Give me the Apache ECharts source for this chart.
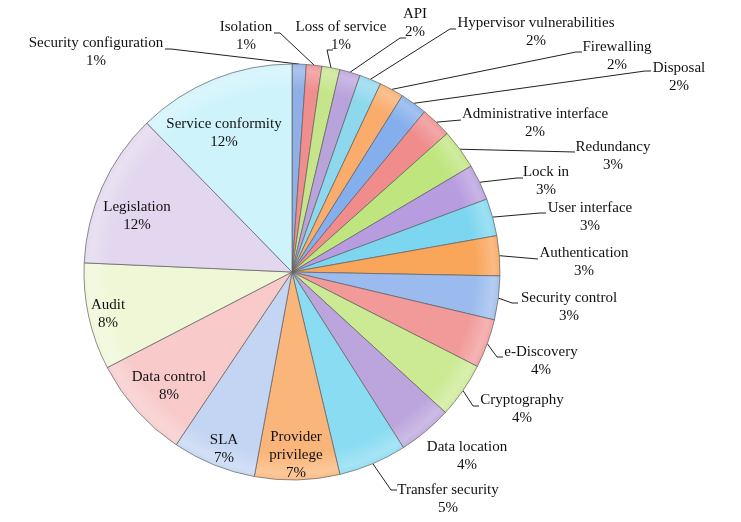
<!DOCTYPE html>
<html><head><meta charset="utf-8">
<script src="https://cdn.jsdelivr.net/npm/echarts@6/dist/echarts.min.js"></script>
<style>html,body{margin:0;padding:0;background:#fff}#chart{width:741px;height:522px}</style>
</head><body><div id="chart"></div>
<script>
// ---- data (percent shares) ----
const categories = [
  'Security configuration','Isolation','Loss of service','API','Hypervisor vulnerabilities',
  'Firewalling','Disposal','Administrative interface','Redundancy','Lock in','User interface',
  'Authentication','Security control','e-Discovery','Cryptography','Data location',
  'Transfer security','Provider privilege','SLA','Data control','Audit','Legislation','Service conformity'
];
const values = [1.1, 1.2, 1.4, 1.6, 1.7, 1.9, 2.1, 2.4, 3.1, 2.8, 2.9, 3.1, 3.4, 3.8, 4.3, 4.2, 5.3, 6.6, 6.5, 8.0, 8.3, 12.0, 12.3];
const insideCategories = ['Provider privilege','SLA','Data control','Audit','Legislation','Service conformity'];

// ---- styles / layout ----
const sliceColors = [
  '#8FB0E6','#F08E8E','#C6E58A','#B9A3DB','#8ED8EE','#F9AC6B','#84AEEC','#F08C8C',
  '#BFE57E','#B79CE0','#7DD6F0','#F9A55A','#9BBBEE','#F29A9A','#CBEA93','#BBA5DC',
  '#8ADCF2','#FAB67A','#C3D5F3','#F8CACA','#F0F7D7','#E2D7EE','#CFF3FB'
];
// [text centre x, first line centre y, leader end x, leader end y]
const labelAnchors = [
  [96, 43, 165, 49], [246, 27, 274, 33], [341, 27, 333, 50], [415, 14, 406, 38],
  [536, 23, 456, 29], [617, 47, 582, 52], [679, 68, 651, 71], [535, 114, 461, 120],
  [613, 147, 575, 152], [546, 172, 523, 178], [590, 208, 546, 213], [584, 253, 538, 259],
  [569, 298, 518, 303], [541, 352, 503, 357], [522, 400, 479, 406], [467, 447, null, null],
  [448, 490, 397, 490], [296, 455], [224, 449], [169, 386], [108, 314], [137, 216], [224, 133]
];
const CX = 292, CY = 272, R = 208, LH = 18;
const FONT = "'Liberation Serif','Times New Roman',serif";

const chart = echarts.init(document.getElementById('chart'), null, {renderer: 'canvas'});

const data = categories.map((name, i) => {
  const inside = insideCategories.includes(name);
  return {
    name,
    value: values[i],
    itemStyle: {
      color: {
        type: 'radial', x: CX, y: CY, r: R, global: true,
        colorStops: [
          {offset: 0, color: sliceColors[i]},
          {offset: 0.88, color: sliceColors[i]},
          {offset: 0.97, color: echarts.color.lift(sliceColors[i], 0.25)},
          {offset: 1, color: echarts.color.lift(sliceColors[i], 0.1)}
        ]
      }
    },
    label: {position: inside ? 'inside' : 'outside'},
    labelLine: {show: !inside && labelAnchors[i][2] != null}
  };
});

chart.setOption({
  animation: false,
  backgroundColor: '#ffffff',
  series: [{
    type: 'pie',
    center: [CX, CY],
    radius: R,
    startAngle: 90,
    clockwise: true,
    avoidLabelOverlap: false,
    silent: true,
    data,
    itemStyle: {borderColor: 'rgba(95,95,95,0.7)', borderWidth: 1},
    label: {
      show: true,
      fontFamily: FONT,
      fontSize: 15,
      lineHeight: LH,
      color: '#111',
      align: 'center',
      formatter: p => {
        const name = p.name === 'Provider privilege' ? 'Provider\nprivilege' : p.name;
        return name + '\n' + Math.round(p.value) + '%';
      }
    },
    labelLine: {show: true, lineStyle: {color: '#222', width: 1}},
    emphasis: {disabled: true},
    labelLayout: function (params) {
      const i = params.dataIndex;
      const a = labelAnchors[i];
      if (insideCategories.includes(categories[i])) {
        return {x: a[0], y: a[1], align: 'center', verticalAlign: 'middle', hideOverlap: false};
      }
      const out = {x: a[0], y: a[1] - LH / 2, align: 'center', verticalAlign: 'top', hideOverlap: false};
      if (a[2] != null && params.labelLinePoints) {
        const start = params.labelLinePoints[0];
        const dir = a[2] > start[0] ? -1 : 1;
        const bend = Math.abs(a[3] - start[1]) > 4 ? 6 : 0;
        out.labelLinePoints = [start, [a[2] + dir * bend, a[3]], [a[2], a[3]]];
      }
      return out;
    }
  }]
});
</script></body></html>
